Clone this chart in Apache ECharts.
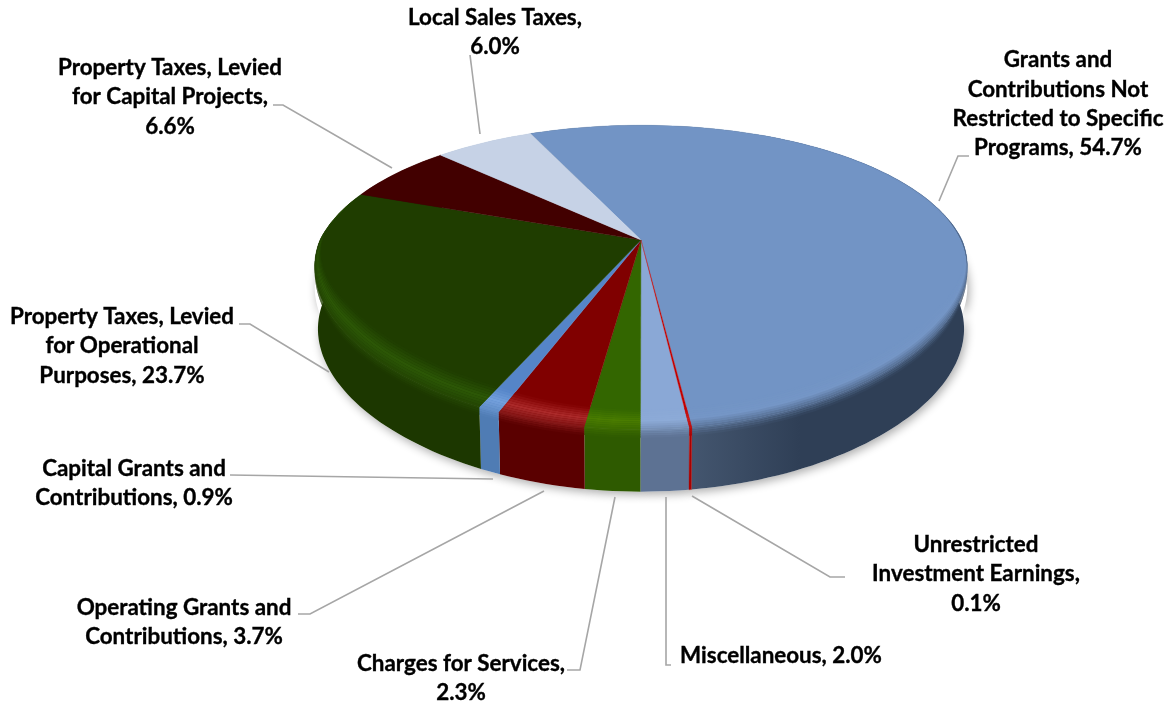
<!DOCTYPE html>
<html><head><meta charset="utf-8">
<style>html,body{margin:0;padding:0;background:#fff}#c{width:1172px;height:702px}</style>
<script src="https://cdn.jsdelivr.net/npm/echarts@6/dist/echarts.min.js"></script>
</head><body><div id="c"></div>
<script>
// ---- data, clockwise starting at the Grants slice
const categories = ['Grants and Contributions Not Restricted to Specific Programs','Unrestricted Investment Earnings','Miscellaneous','Charges for Services','Operating Grants and Contributions','Capital Grants and Contributions','Property Taxes, Levied for Operational Purposes','Property Taxes, Levied for Capital Projects','Local Sales Taxes'];
const values = [54.7,0.1,2.0,2.3,3.7,0.9,23.7,6.6,6.0];
const labelHeads = ['Grants and\nContributions Not\nRestricted to Specific\nPrograms, ','Unrestricted\nInvestment Earnings,\n','Miscellaneous, ','Charges for Services,\n','Operating Grants and\nContributions, ','Capital Grants and\nContributions, ','Property Taxes, Levied\nfor Operational\nPurposes, ','Property Taxes, Levied\nfor Capital Projects,\n','Local Sales Taxes,\n'];
// ---- styles
const topColors  = ['#7294c5','#c00000','#8aa8d6','#336600','#800000','#5585c8','#1f3d00','#420000','#c6d2e6'];
const wallNear   = ['#44566f','#a80000','#5d7293','#2e5a00','#5a0000','#4f7cb4','#1c3700','#3a0000','#aab8cc'];
const wallFar    = ['#2f3f56','#a80000','#5d7293','#2e5a00','#5a0000','#4f7cb4','#1c3700','#3a0000','#aab8cc'];
const glowColors = ['#7596c6','#c82020','#8dabd7','#4a7c00','#ac2a2a','#74a0dc','#2c5706','#420000','#c6d2e6'];
const labelBoxes = [[1058,104],[976,574],[781,656],[461,678],[184,622],[134,483],[122,346],[170,97],[495,32]];
const leaders = [
 [[939,201],[958,156],[969,156]],[[692,496],[830,577],[845,577]],[[666,497],[666,665],[671,665]],
 [[615,497],[580,670],[567,670]],[[544,491],[310,614],[298,614]],[[493,479],[230,475]],
 [[329,372],[250,324],[239,324]],[[392,168],[283,105],[273,105]],[[480,134],[470,55]]];
const START_DEG = -24.4, CX = 641, AY = 240, RX = 321, RY = 143, K = -0.246, KX_FRONT = -0.18, KX_BACK = -0.22, DEPTH = 62;

function proj(deg, dz, sx) {
  const a = deg * Math.PI / 180, x = Math.sin(a), y = -Math.cos(a);
  const dx = 1 + (y > 0 ? KX_FRONT : KX_BACK) * y;
  const d = 1 + K * y;
  return [CX + sx * RX * x / dx, AY + RY * y / d + dz];
}
function weight(deg) { const y = -Math.cos(deg * Math.PI / 180); return Math.max(0, Math.min(1, (y + 0.2) / 0.75)); }
// x offset that keeps a slice edge on its radial line when the bevel lifts it by dz
function edgeShift(deg, dz) {
  const y = -Math.cos(deg * Math.PI / 180);
  if (dz >= 0 || y < 0.3) return 0;
  const p = proj(deg, 0, 1);
  return (p[0] - CX) * dz * weight(deg) / (p[1] - AY);
}
function arc(a0, a1, fn) {
  const n = Math.max(2, Math.ceil(Math.abs(a1 - a0) / 1.5)), pts = [];
  for (let i = 0; i <= n; i++) { pts.push(fn(a0 + (a1 - a0) * i / n, i / n)); }
  return pts;
}
function mix(c1, c2, t) {
  const p = c => [1, 3, 5].map(i => parseInt(c.substr(i, 2), 16));
  const a = p(c1), b = p(c2);
  return 'rgb(' + a.map((v, i) => Math.round(v + (b[i] - v) * t)).join(',') + ')';
}
const wallGrad = (a, b) => new echarts.graphic.LinearGradient(690, 0, 800, 0, [{offset:0,color:a},{offset:1,color:b}], true);
const total = values.reduce((s, v) => s + v, 0);
let acc = START_DEG;
const seriesData = values.map((v, i) => {
  const a0 = acc, a1 = acc + v / total * 360; acc = a1;
  return { name: categories[i], value: [v, a0, a1, i] };
});
const BAND_TOP = -20, BAND_BOTTOM = 8, BAND_COUNT = 14, GLOW_AT = 0.4;
function renderSlice(params, api) {
  const a0 = api.value(1), a1 = api.value(2), i = api.value(3);
  const thin = values[i] < 0.5 ? 40 : 0;
  const children = [];
  const top = () => arc(a0, a1, d => proj(d, 0, 1));
  const wallPts = top().concat(arc(a1, a0, d => proj(d, DEPTH, 0.99)));
  const s0 = Math.max(a0, 85), s1 = Math.min(a1, 275);
  if (s1 > s0) {
    const sh = arc(s0, s1, d => proj(d, 20, 1)).concat(arc(s1, s0, d => proj(d, DEPTH, 0.99)));
    children.push({ type:'polygon', z2:1, shape:{points:sh}, style:{fill:'#fff',shadowBlur:10,shadowColor:'rgba(0,0,0,0.33)',shadowOffsetY:3,shadowOffsetX:2} });
  }
  children.push({ type:'polygon', z2:2+thin, shape:{points:wallPts}, style:{fill:wallGrad(wallNear[i],wallFar[i]),stroke:wallNear[i],lineWidth:thin?0.3:0} });
  children.push({ type:'polygon', z2:5+thin, shape:{points:[[CX, AY]].concat(top())},
    style:{fill:topColors[i],stroke:topColors[i],lineWidth:thin?0.3:0.4} });
  const bandCurve = dz => {
    const e0 = edgeShift(a0, dz), e1 = edgeShift(a1, dz);
    return arc(a0, a1, (d, t) => { const p = proj(d, dz * weight(d), 1); return [p[0] + e0 * (1 - t) + e1 * t, p[1]]; });
  };
  for (let b = 0; b < BAND_COUNT; b++) {
    const d1 = BAND_TOP + (BAND_BOTTOM - BAND_TOP) * b / BAND_COUNT;
    const d2 = BAND_TOP + (BAND_BOTTOM - BAND_TOP) * (b + 1) / BAND_COUNT;
    const up = bandCurve(d1), dn = bandCurve(d2).reverse();
    const f = (b + 0.5) / BAND_COUNT;
    let fill;
    if (f < GLOW_AT) fill = mix(topColors[i], glowColors[i], f / GLOW_AT);
    else { const t = (f - GLOW_AT) / (1 - GLOW_AT); fill = wallGrad(mix(glowColors[i], wallNear[i], t), mix(glowColors[i], wallFar[i], t)); }
    children.push({ type:'polygon', z2:6+b+thin, shape:{points:up.concat(dn)}, style:{fill,stroke:null} });
  }
  return { type:'group', children };
}
const elements = [];
labelHeads.forEach((h, i) => {
  elements.push({ type:'text', x:labelBoxes[i][0], y:labelBoxes[i][1], z:100,
    style:{ text:h + values[i].toFixed(1) + '%', font:'bold 22.4px Lato', fill:'#000', stroke:'#000', lineWidth:0.35, lineHeight:29.3,
      align:'center', verticalAlign:'middle' } });
  elements.push({ type:'polyline', z:99, shape:{points:leaders[i]}, style:{stroke:'#a6a6a6',lineWidth:1.6,fill:null} });
});
const chart = echarts.init(document.getElementById('c'), null, {renderer:'canvas'});
chart.setOption({
  animation:false, backgroundColor:'#fff',
  graphic:{elements},
  series:[{ type:'custom', coordinateSystem:'none', renderItem:renderSlice, data:seriesData, silent:true, clip:false }]
});
</script></body></html>
